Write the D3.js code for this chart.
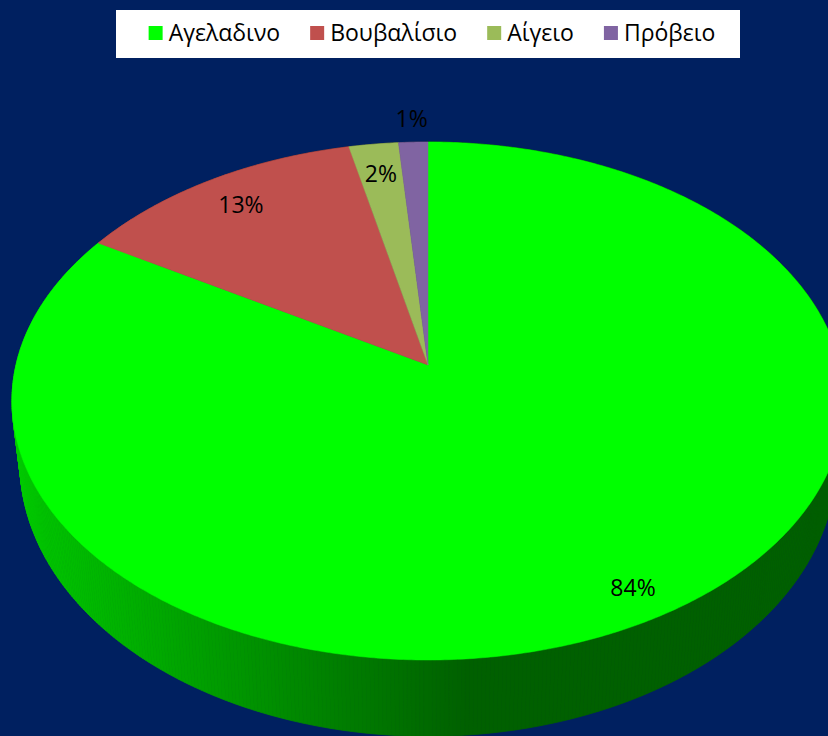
<!DOCTYPE html>
<html>
<head>
<meta charset="utf-8">
<script src="https://cdn.jsdelivr.net/npm/d3@7"></script>
<style>
  html, body { margin: 0; padding: 0; background: #002060; overflow: hidden; }
  svg { display: block; }
</style>
</head>
<body>
<svg id="chart" width="828" height="736"></svg>
<script>
// Milk production by animal type (share of total)
const categories = ["Αγελαδινο", "Βουβαλίσιο", "Αίγειο", "Πρόβειο"];
const shares = [0.836, 0.129, 0.022, 0.013];
const colors = ["#00ff00", "#c0504d", "#9bbb59", "#8064a2"];

const W = 828, H = 736;
const svg = d3.select("#chart");
svg.append("rect").attr("width", W).attr("height", H).attr("fill", "#002060");

// Perspective projection of a point on a horizontal disc.
// theta: angle clockwise from 12 o'clock, r: radius fraction.
function projector(cx, cy, sx, sy, p) {
  return (theta, r) => {
    const u = r * Math.sin(theta), v = -r * Math.cos(theta), w = 1 - p * v;
    return [cx + sx * u / w, cy + sy * v / w];
  };
}
const topFace = projector(428, 365, 412, 254, 0.139);
const bottomFace = projector(428, 425, 404, 268, 0.139);

const arcs = d3.pie().sort(null).value(d => d)(shares);
const step = Math.PI / 360;

// Side wall: thin quads between top rim and bottom rim, shaded by screen x
const shade = d3.scaleLinear().domain([15, 470]).range([0.79, 0.376]).clamp(true);
const quads = [];
arcs.forEach((a, i) => {
  for (let t = a.startAngle; t < a.endAngle - 1e-9; t += step) {
    const t2 = Math.min(t + step, a.endAngle);
    const p1 = topFace(t, 1), p2 = topFace(t2, 1), p3 = bottomFace(t2, 1), p4 = bottomFace(t, 1);
    const mid = (t + t2) / 2;
    quads.push({ pts: [p1, p2, p3, p4], depth: -Math.cos(mid), i, mx: (p1[0] + p2[0]) / 2 });
  }
});
quads.sort((a, b) => a.depth - b.depth);

const wall = svg.append("g");
wall.selectAll("path")
  .data(quads)
  .join("path")
  .attr("d", q => "M" + q.pts.map(p => p.join(",")).join("L") + "Z")
  .each(function (q) {
    const c = d3.rgb(colors[q.i]);
    const k = shade(q.mx);
    const col = d3.rgb(c.r * k, c.g * k, c.b * k).formatHex();
    d3.select(this).attr("fill", col).attr("stroke", col).attr("stroke-width", 0.8);
  });

// Top face slices
function slicePath(a) {
  const pts = [topFace(0, 0)];
  const n = Math.max(2, Math.ceil((a.endAngle - a.startAngle) / step));
  for (let k = 0; k <= n; k++) {
    pts.push(topFace(a.startAngle + (a.endAngle - a.startAngle) * k / n, 1));
  }
  return "M" + pts.map(p => p.join(",")).join("L") + "Z";
}
svg.append("g").selectAll("path")
  .data(arcs)
  .join("path")
  .attr("d", slicePath)
  .attr("fill", (d, i) => colors[i])
  .attr("stroke", (d, i) => colors[i])
  .attr("stroke-width", 0.5);

// Percentage labels: inside the slice, or just outside the rim for thin slices
const pct = d3.format(".0%");
function labelRadius(d) {
  if (d.value < 0.015) return 1.12;
  if (d.value > 0.5) return 0.9;
  return 0.85;
}
svg.append("g").selectAll("text")
  .data(arcs)
  .join("text")
  .attr("x", d => topFace((d.startAngle + d.endAngle) / 2, labelRadius(d))[0])
  .attr("y", d => topFace((d.startAngle + d.endAngle) / 2, labelRadius(d))[1])
  .attr("dy", "0.35em")
  .attr("text-anchor", "middle")
  .attr("font-family", "'Open Sans', sans-serif")
  .attr("font-size", 23)
  .attr("fill", "#000")
  .text(d => pct(d.value));

// Legend
const legend = svg.append("g");
legend.append("rect")
  .attr("x", 116).attr("y", 10).attr("width", 624).attr("height", 48)
  .attr("fill", "#ffffff");
const items = legend.selectAll("g.item")
  .data(categories)
  .join("g")
  .attr("class", "item");
items.append("rect")
  .attr("width", 14).attr("height", 14)
  .attr("y", 26)
  .attr("fill", (d, i) => colors[i]);
items.append("text")
  .attr("x", 20)
  .attr("y", 33)
  .attr("dy", "0.35em")
  .attr("font-family", "'Open Sans', sans-serif")
  .attr("font-size", 23)
  .attr("fill", "#000")
  .text(d => d);
const gap = 30;
const widths = [];
items.each(function () { widths.push(20 + d3.select(this).select("text").node().getComputedTextLength()); });
const total = d3.sum(widths) + gap * (widths.length - 1);
let xpos = 432 - total / 2;
items.each(function (d, i) {
  d3.select(this).attr("transform", `translate(${xpos},0)`);
  xpos += widths[i] + gap;
});
</script>
</body>
</html>
